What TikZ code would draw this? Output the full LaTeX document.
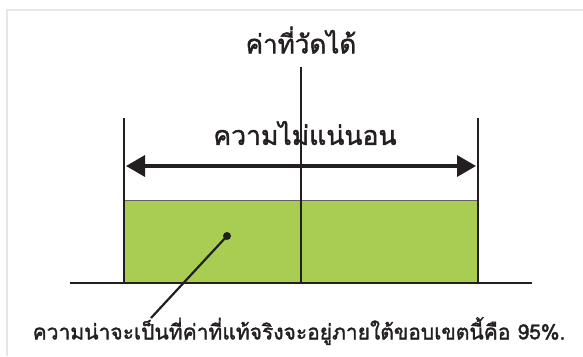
\documentclass[tikz,border=0pt]{standalone}
\usepackage{fontspec}
\newfontfamily\thaifont[Script=Thai,FakeBold=1.6]{Loma}
\usetikzlibrary{arrows.meta}
\definecolor{ink}{HTML}{231F20}
\definecolor{leaf}{HTML}{A8CD52}
\definecolor{frame}{HTML}{E6E6E6}
\begin{document}
\begin{tikzpicture}[x=1pt,y=-1pt,
  vline/.style={draw=ink,line width=1.8pt},
  lbl/.style={inner sep=0pt,text=ink}]
\useasboundingbox (0,0) rectangle (583,356);
\draw[frame,line width=2pt] (7,356) -- (7,10) -- (583,10);
% green box
\fill[leaf] (124,200) rectangle (478,283);
\draw[ink!70,line width=1pt] (124,200) -- (478,200);
% coordinates
\coordinate (ltop) at (124,118);
\coordinate (lbot) at (124,283);
\coordinate (rtop) at (478,118);
\coordinate (rbot) at (478,283);
\coordinate (ctop) at (301,67);
\coordinate (cbot) at (301,283);
\coordinate (bl) at (70,283);
\coordinate (br) at (532,283);
\coordinate (al) at (126,166);
\coordinate (ar) at (476,166);
\draw[vline] (ltop) -- (lbot);
\draw[vline] (rtop) -- (rbot);
\draw[vline] (ctop) -- (cbot);
\draw[vline] (bl) -- (br);
\draw[draw=ink,line width=3.5pt,{Triangle[length=19pt,width=21pt]}-{Triangle[length=19pt,width=21pt]}] (al) -- (ar);
% labels
\node[lbl,font=\thaifont\fontsize{26}{30}\selectfont] (meas) at (301,40) {ค่าที่วัดได้};
\node[lbl,font=\thaifont\fontsize{26.5}{30}\selectfont] (unc) at (305,133) {ความไม่แน่นอน};
\node[fill=ink,circle,inner sep=0pt,minimum size=8pt] (dot) at (227,236) {};
\coordinate (tail) at (151,318);
\draw[ink,line width=2.2pt] (dot.center) -- (tail);
\node[lbl,font=\thaifont\fontsize{21}{24}\selectfont] (prob) at (299,331) {ความน่าจะเป็นที่ค่าที่แท้จริงจะอยู่ภายใต้ขอบเขตนี้คือ 95\%.};
\end{tikzpicture}
\end{document}
